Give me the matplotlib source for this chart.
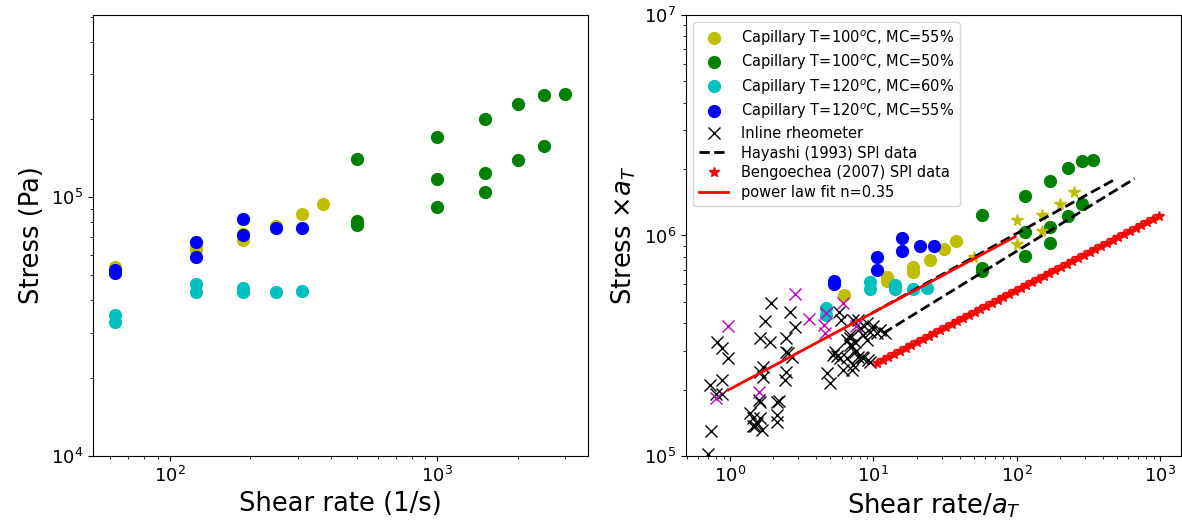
import numpy as np
import matplotlib
matplotlib.use("Agg")
import matplotlib.pyplot as plt

# Capillary data (shear rate 1/s, stress Pa)
yel_rate = [62.5, 125, 125, 187.5, 187.5, 250, 312.5, 375]
yel_stress = [53800, 64500, 62300, 68400, 72100, 77600, 86400, 94000]

grn_rate = [500, 500, 500, 1000, 1000, 1000, 1500, 1500, 1500, 2000, 2000, 2500, 2500, 3000]
grn_stress = [141000, 80700, 78400, 171400, 117400, 91500, 201400, 124500, 104800,
              229400, 139800, 247700, 157400, 250000]

cyan_rate = [62.5, 62.5, 125, 125, 187.5, 187.5, 250, 312.5]
cyan_stress = [35200, 32900, 46200, 43200, 44700, 43000, 43000, 43600]

blu_rate = [62.5, 62.5, 125, 125, 187.5, 187.5, 250, 312.5]
blu_stress = [52600, 51000, 67400, 58600, 82200, 71700, 75800, 75800]

# shift factors a_T for each capillary set
aT_yel = 10.0
aT_grn = 8.8
aT_cyan = 13.3
aT_blu = 11.85

# extra capillary points (reduced), no legend entry
ystar_rate = [50, 100, 100, 150, 150, 200, 250]
ystar_stress = [796e3, 1.17e6, 9.13e5, 1.24e6, 1.045e6, 1.387e6, 1.567e6]

# Inline rheometer (reduced)
inline_rate = [0.706, 0.737, 0.73, 0.795, 0.875, 0.875, 0.808, 0.875, 0.961,
               1.379, 1.454, 1.543, 1.494, 1.62, 1.672, 1.454, 1.62, 1.594, 1.708,
               1.62, 1.708, 1.62, 1.755, 1.917, 1.90, 2.138, 2.138, 2.118, 2.46,
               2.459, 2.55, 2.459, 2.40, 2.623, 2.842, 2.695, 2.208, 4.73, 4.987,
               5.404, 5.554, 5.79, 5.922, 6.175, 6.523, 7.069, 6.523, 6.878, 7.069,
               7.252, 7.453, 7.859, 8.299, 8.518, 9.228, 7.252, 5.259, 5.85, 6.878,
               7.453, 6.878, 8.08, 8.99, 10.0, 8.52, 9.48, 10.6, 8.99, 11.14, 12.07,
               7.86, 9.48]
inline_stress = [1.02e5, 1.30e5, 2.10e5, 1.92e5, 1.92e5, 2.22e5, 3.28e5, 3.09e5, 2.77e5,
                 1.57e5, 1.49e5, 1.41e5, 1.37e5, 1.49e5, 1.31e5, 1.37e5, 1.76e5, 1.79e5, 2.54e5,
                 2.41e5, 2.28e5, 3.42e5, 4.10e5, 4.96e5, 3.28e5, 1.76e5, 1.53e5, 1.43e5, 3.42e5,
                 2.97e5, 2.92e5, 2.41e5, 2.20e5, 4.51e5, 3.83e5, 2.82e5, 1.78e5, 2.39e5, 2.14e5,
                 2.97e5, 2.84e5, 4.51e5, 4.14e5, 2.45e5, 2.77e5, 2.45e5, 3.36e5, 3.54e5, 3.17e5,
                 4.14e5, 2.97e5, 2.82e5, 2.82e5, 2.77e5, 2.72e5, 2.59e5, 2.87e5, 2.77e5, 3.42e5,
                 3.30e5, 3.19e5, 3.80e5, 4.00e5, 3.87e5, 3.54e5, 3.66e5, 3.60e5, 3.36e5, 3.73e5,
                 3.60e5, 4.14e5, 2.68e5]

inline2_rate = [2.842, 0.961, 0.799, 1.594, 3.576, 4.529, 4.655, 4.59, 6.175, 7.6]
inline2_stress = [5.43e5, 3.87e5, 1.84e5, 1.95e5, 4.17e5, 3.93e5, 4.47e5, 3.60e5, 4.93e5, 3.87e5]

# Hayashi (1993)
hay1_rate = [9.75, 486]
hay1_stress = [4.44e5, 1.80e6]
hay2_rate = [11.7, 663]
hay2_stress = [3.60e5, 1.81e6]

# Bengoechea (2007)
beng_rate = [10.59, 11.62, 12.74, 13.98, 15.32, 16.81, 18.43, 20.22, 22.17, 24.31,
             26.67, 29.25, 32.08, 35.18, 38.58, 42.32, 46.41, 50.90, 55.83, 61.23,
             67.14, 73.64, 80.76, 88.58, 97.14, 106.5, 116.8, 128.1, 140.5, 154.1,
             169.0, 185.4, 203.3, 223.0, 244.5, 268.2, 294.2, 322.6, 353.8, 388.0,
             425.6, 466.7, 511.9, 561.4, 615.7, 675.3, 740.6, 812.3, 890.9, 977.2]
beng_stress = [264.9e3, 273.3e3, 281.9e3, 290.9e3, 300.1e3, 309.6e3, 319.4e3, 329.6e3, 340.1e3, 350.9e3,
               362.0e3, 373.5e3, 385.3e3, 397.6e3, 410.2e3, 423.2e3, 436.6e3, 450.5e3, 464.8e3, 479.5e3,
               494.8e3, 510.5e3, 526.7e3, 543.4e3, 560.7e3, 578.5e3, 596.8e3, 615.8e3, 635.3e3, 655.5e3,
               676.3e3, 697.8e3, 719.9e3, 742.8e3, 766.4e3, 790.7e3, 815.8e3, 841.7e3, 868.4e3, 896.0e3,
               924.4e3, 953.8e3, 984.0e3, 1015e3, 1047e3, 1081e3, 1115e3, 1150e3, 1187e3, 1225e3]

# power law fit n=0.35
fit_rate = [0.97, 97.5]
fit_stress = [1.99e5, 9.88e5]

fig = plt.figure(figsize=(11.82, 5.24), dpi=100)
ax1 = fig.add_axes([0.0784, 0.1298, 0.4188, 0.8416])
ax2 = fig.add_axes([0.5804, 0.1298, 0.4188, 0.8416])

ms = 8.5

# left panel: raw data
ax1.plot(yel_rate, yel_stress, 'yo', ms=ms)
ax1.plot(grn_rate, grn_stress, 'go', ms=ms)
ax1.plot(cyan_rate, cyan_stress, 'co', ms=ms)
ax1.plot(blu_rate, blu_stress, 'bo', ms=ms)
ax1.set_xscale('log')
ax1.set_yscale('log')
ax1.set_ylim(1e4, 5.07e5)
ax1.set_xlabel('Shear rate (1/s)', fontsize=18.5)
ax1.set_ylabel('Stress (Pa)', fontsize=18.5)

# right panel: reduced data
sets = [(yel_rate, yel_stress, aT_yel, 'yo', r'Capillary T=100$^o$C, MC=55%'),
        (grn_rate, grn_stress, aT_grn, 'go', r'Capillary T=100$^o$C, MC=50%'),
        (cyan_rate, cyan_stress, aT_cyan, 'co', r'Capillary T=120$^o$C, MC=60%'),
        (blu_rate, blu_stress, aT_blu, 'bo', r'Capillary T=120$^o$C, MC=55%')]
for rate, stress, aT, fmt, lab in sets:
    ax2.plot(np.array(rate) / aT, np.array(stress) * aT, fmt, ms=ms, label=lab)
ax2.plot(ystar_rate, ystar_stress, 'y*', ms=8.5)
ax2.plot(inline_rate, inline_stress, 'kx', ms=8, label='Inline rheometer')
ax2.plot(inline2_rate, inline2_stress, 'mx', ms=8)
ax2.plot(hay1_rate, hay1_stress, 'k--', lw=2, label='Hayashi (1993) SPI data')
ax2.plot(hay2_rate, hay2_stress, 'k--', lw=2)
ax2.plot(beng_rate, beng_stress, 'r*', ms=7, label='Bengoechea (2007) SPI data')
ax2.plot(fit_rate, fit_stress, 'r-', lw=2, label='power law fit n=0.35')
ax2.set_xscale('log')
ax2.set_yscale('log')
ax2.set_xlim(0.493, 1400)
ax2.set_ylim(1e5, 1e7)
ax2.set_xlabel(r'Shear rate/$a_T$', fontsize=18.5)
ax2.set_ylabel(r'Stress $\times a_T$', fontsize=18.5)
ax2.legend(loc='upper left', fontsize=10.5, numpoints=1, labelspacing=0.33,
           handletextpad=0.9)

for ax in (ax1, ax2):
    ax.tick_params(labelsize=13)

fig.savefig('out.png', dpi=100)
